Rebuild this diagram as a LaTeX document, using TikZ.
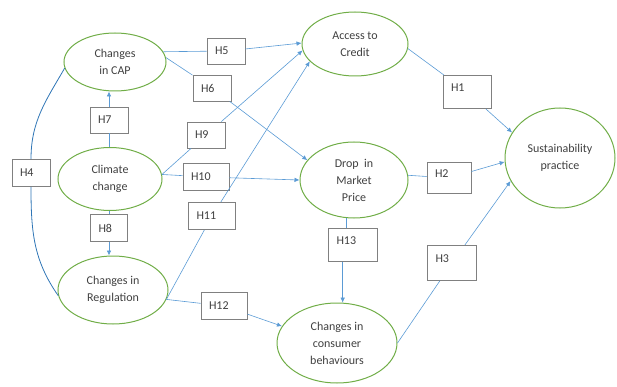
\documentclass[tikz,border=0pt]{standalone}
\usepackage{fontspec}
\setmainfont{Carlito}
\usepackage{tikz}
\usetikzlibrary{positioning,shapes.geometric,arrows.meta}

\definecolor{ovalgreen}{HTML}{70AD47}
\definecolor{linkblue}{HTML}{5B9BD5}
\definecolor{darkblue}{HTML}{2E75B6}
\definecolor{boxgray}{HTML}{808080}
\definecolor{txtgray}{HTML}{404040}

\tikzset{
	construct/.style={draw=ovalgreen,line width=1pt,ellipse,inner sep=0pt,align=center,text=txtgray,font=\fontsize{12}{17}\selectfont},
	hyp/.style={draw=boxgray,line width=0.9pt,fill=white,minimum height=26pt,text width=#1,inner xsep=8pt,align=left,text=txtgray,font=\fontsize{12}{14}\selectfont},
	hyp/.default=22pt,
	hyptall/.style={hyp=#1,minimum height=33pt,text depth=8pt},
	link/.style={linkblue,line width=0.6pt},
	>={Latex[length=5pt,width=4.5pt]},
}

\begin{document}
\begin{tikzpicture}[x=1pt,y=-1pt]
		\useasboundingbox (0,0) rectangle (617,387);
		% constructs
		\node[construct,minimum width=102pt,minimum height=58pt] (cap) at (115,62) {Changes\\in CAP};
		\node[construct,minimum width=104pt,minimum height=63pt] (clim) at (110,179) {Climate\\change};
		\node[construct,minimum width=110pt,minimum height=68pt] (reg) at (113,290) {Changes in\\Regulation};
		\node[construct,minimum width=106pt,minimum height=64pt] (acc) at (355,44) {Access to\\Credit};
		\node[construct,minimum width=108pt,minimum height=76pt] (drop) at (354,180) {Drop\ \ in\\Market\\Price};
		\node[construct,minimum width=120pt,minimum height=80pt] (cons) at (337,343) {Changes in\\consumer\\behaviours};
		\node[construct,minimum width=110pt,minimum height=100pt] (sust) at (560,158) {Sustainability\\practice};
		% hypotheses
		\node[hyp] (h5) at (226,51) {H5};
		\node[hyp] (h6) at (212,88) {H6};
		\node[hyp] (h7) at (109,120) {H7};
		\node[hyp] (h9) at (206,135) {H9};
		\node[hyp=30pt,minimum height=27pt] (h10) at (206,177) {H10};
		\node[hyp,minimum height=27pt] (h4) at (31,173) {H4};
		\node[hyp=21pt,minimum height=27pt] (h8) at (109,228) {H8};
		\node[hyp=31pt,minimum height=27pt] (h11) at (212,216) {H11};
		\node[hyp=30pt,minimum height=27pt] (h12) at (224,306) {H12};
		\node[hyptall=32pt] (h1) at (467,92) {H1};
		\node[hyptall=28pt,minimum height=31pt] (h2) at (449,178) {H2};
		\node[hyptall=33pt] (h13) at (353,245) {H13};
		\node[hyptall=33pt,minimum height=35pt] (h3) at (452,263) {H3};
		% links
		\draw[link] (cap.12) -- (h5);
		\draw[link,->] (h5) -- (acc.179);
		\draw[link] (cap.5) -- (h6);
		\draw[link,->] (h6) -- (drop.157);
		\draw[link] (h7 |- clim.north) -- (h7);
		\draw[link,->] (h7) -- (h7 |- cap.south);
		\draw[link] (clim.5) -- (h9);
		\draw[link,->] (h9) -- (acc.187);
		\draw[link] (clim.5) -- (h10);
		\draw[link,->] (h10) -- (drop.west);
		\draw[link] (h8 |- clim.south) -- (h8);
		\draw[link,->] (h8) -- (h8 |- reg.north);
		\draw[darkblue,line width=0.8pt] (cap.187) to[out=240,in=90] (h4.north);
		\draw[darkblue,line width=0.8pt] (h4.south) to[out=-90,in=125] (reg.186);
		\draw[link] (reg.350) -- (h11);
		\draw[link,->] (h11) -- (acc.201);
		\draw[link] (reg.350) -- (h12);
		\draw[link,->] (h12) -- (cons.163);
		\draw[link] (acc.355) -- (h1);
		\draw[link,->] (h1) -- (sust.152);
		\draw[link] (drop.5) -- (h2);
		\draw[link,->] (h2) -- (sust.184);
		\draw[link] (cons.0) -- (h3);
		\draw[link,->] (h3) -- (sust.205);
		\draw[link] (drop.258) -- (drop.258 |- h13.north);
		\draw[link,->] (cons.82 |- h13.south) -- (cons.82);
\end{tikzpicture}
\end{document}
